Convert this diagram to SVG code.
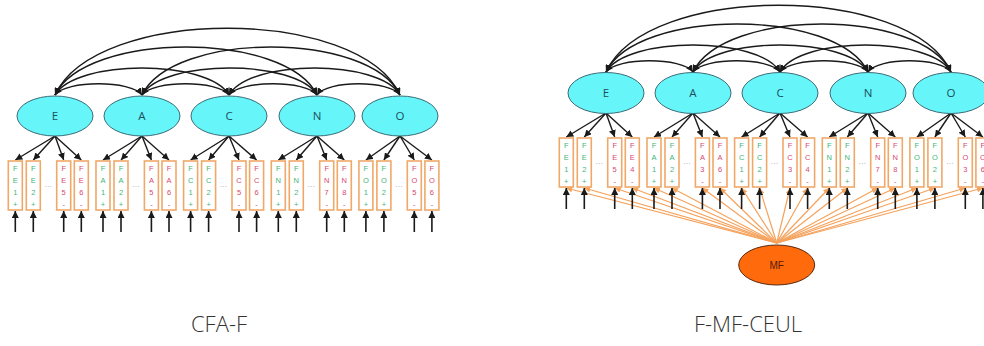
<svg xmlns="http://www.w3.org/2000/svg" width="984" height="346" viewBox="0 0 984 346">
  <style>
    .lat ellipse { fill: #66f6f9; stroke: #3d6b78; stroke-width: 1; }
    .lat text { font-family: "Open Sans", "Liberation Sans", sans-serif; font-size: 11.5px; fill: #1d4f5e; text-anchor: middle; }
    .item rect { fill: #ffffff; stroke: #f0a868; stroke-width: 1.6; }
    .item text { font-family: "Liberation Sans", sans-serif; font-size: 7.5px; text-anchor: middle; }
    .pos text { fill: #3cb878; }
    .neg text { fill: #d84870; }
    .dots { font-family: "Liberation Sans", sans-serif; font-size: 8px; fill: #9a9a9a; text-anchor: middle; }
    .cov path { fill: none; stroke: #1a1a1a; stroke-width: 1.4; marker-start: url(#ah); marker-end: url(#ah); }
    .load line { stroke: #1a1a1a; stroke-width: 1.4; marker-end: url(#ah); }
    .err line { stroke: #1a1a1a; stroke-width: 1.6; marker-end: url(#ah); }
    .mfl line { stroke: #f5a25c; stroke-width: 1.2; marker-end: url(#aho); }
    #mf ellipse { fill: #ff6a0c; stroke: #5a2a10; stroke-width: 1; }
    #mf text { font-family: "Liberation Sans", sans-serif; font-size: 10px; fill: #5a1a05; text-anchor: middle; }
    .title { font-family: "Open Sans", "Liberation Sans", sans-serif; font-weight: 300; font-size: 22px; fill: #333333; text-anchor: middle; }
  </style>
  <defs>
    <marker id="ah" viewBox="0 0 10 10" refX="10" refY="5" markerWidth="7" markerHeight="7" markerUnits="userSpaceOnUse" orient="auto-start-reverse">
      <path d="M0,0 L10,5 L0,10 z" fill="#1a1a1a"/>
    </marker>
    <marker id="aho" viewBox="0 0 10 10" refX="10" refY="5" markerWidth="6" markerHeight="6" markerUnits="userSpaceOnUse" orient="auto">
      <path d="M0,0 L10,5 L0,10 z" fill="#f5a25c"/>
    </marker>
  </defs>
  <rect width="984" height="346" fill="#ffffff"/>

  <!-- ===== Left model: CFA-F ===== -->
  <g id="cfa-f">
    <g id="cfa-f-connectors">
      <g class="cov">
        <path d="M55,95 C65.4,80 131.6,80 142,95"/>
        <path d="M55,95 C76,59 208,59 229,95"/>
        <path d="M55,95 C86,31 286,31 317,95"/>
        <path d="M55,95 C96,6 359,6 400,95"/>
        <path d="M142,95 C152.4,80 218.6,80 229,95"/>
        <path d="M142,95 C163,59 296,59 317,95"/>
        <path d="M142,95 C173,31 369,31 400,95"/>
        <path d="M229,95 C239.5,80 306.5,80 317,95"/>
        <path d="M229,95 C249.5,59 379.5,59 400,95"/>
        <path d="M317,95 C327,80 390,80 400,95"/>
      </g>
      <g class="load">
        <line x1="55" y1="136" x2="15.3" y2="160"/><line x1="55" y1="136" x2="33.3" y2="160"/>
        <line x1="55" y1="136" x2="63.7" y2="160"/><line x1="55" y1="136" x2="81.3" y2="160"/>
        <line x1="142" y1="136" x2="103" y2="160"/><line x1="142" y1="136" x2="121" y2="160"/>
        <line x1="142" y1="136" x2="151.4" y2="160"/><line x1="142" y1="136" x2="169" y2="160"/>
        <line x1="229" y1="136" x2="190.6" y2="160"/><line x1="229" y1="136" x2="208.6" y2="160"/>
        <line x1="229" y1="136" x2="239" y2="160"/><line x1="229" y1="136" x2="256.6" y2="160"/>
        <line x1="317" y1="136" x2="278.3" y2="160"/><line x1="317" y1="136" x2="296.3" y2="160"/>
        <line x1="317" y1="136" x2="326.7" y2="160"/><line x1="317" y1="136" x2="344.3" y2="160"/>
        <line x1="400" y1="136" x2="365.9" y2="160"/><line x1="400" y1="136" x2="383.9" y2="160"/>
        <line x1="400" y1="136" x2="414.3" y2="160"/><line x1="400" y1="136" x2="431.9" y2="160"/>
      </g>
      <g class="err">
        <line x1="15.3" y1="232" x2="15.3" y2="211"/><line x1="33.3" y1="232" x2="33.3" y2="211"/>
        <line x1="63.7" y1="232" x2="63.7" y2="211"/><line x1="81.3" y1="232" x2="81.3" y2="211"/>
        <line x1="103" y1="232" x2="103" y2="211"/><line x1="121" y1="232" x2="121" y2="211"/>
        <line x1="151.4" y1="232" x2="151.4" y2="211"/><line x1="169" y1="232" x2="169" y2="211"/>
        <line x1="190.6" y1="232" x2="190.6" y2="211"/><line x1="208.6" y1="232" x2="208.6" y2="211"/>
        <line x1="239" y1="232" x2="239" y2="211"/><line x1="256.6" y1="232" x2="256.6" y2="211"/>
        <line x1="278.3" y1="232" x2="278.3" y2="211"/><line x1="296.3" y1="232" x2="296.3" y2="211"/>
        <line x1="326.7" y1="232" x2="326.7" y2="211"/><line x1="344.3" y1="232" x2="344.3" y2="211"/>
        <line x1="365.9" y1="232" x2="365.9" y2="211"/><line x1="383.9" y1="232" x2="383.9" y2="211"/>
        <line x1="414.3" y1="232" x2="414.3" y2="211"/><line x1="431.9" y1="232" x2="431.9" y2="211"/>
      </g>
    </g>

    <!-- latent factors -->
    <g id="l-E" class="lat"><ellipse cx="55" cy="116" rx="38" ry="20"/><text x="55" y="120">E</text></g>
    <g id="l-A" class="lat"><ellipse cx="142" cy="116" rx="38" ry="20"/><text x="142" y="120">A</text></g>
    <g id="l-C" class="lat"><ellipse cx="229" cy="116" rx="38" ry="20"/><text x="229" y="120">C</text></g>
    <g id="l-N" class="lat"><ellipse cx="317" cy="116" rx="38" ry="20"/><text x="317" y="120">N</text></g>
    <g id="l-O" class="lat"><ellipse cx="400" cy="116" rx="38" ry="20"/><text x="400" y="120">O</text></g>

    <!-- observed items -->
    <g id="l-FE1" class="item pos" transform="translate(15.3,161)"><rect x="-7" y="0" width="14" height="49"/><text y="10">F</text><text y="22">E</text><text y="34">1</text><text y="46">+</text></g>
    <g id="l-FE2" class="item pos" transform="translate(33.3,161)"><rect x="-7" y="0" width="14" height="49"/><text y="10">F</text><text y="22">E</text><text y="34">2</text><text y="46">+</text></g>
    <g id="l-FE5" class="item neg" transform="translate(63.7,161)"><rect x="-7" y="0" width="14" height="49"/><text y="10">F</text><text y="22">E</text><text y="34">5</text><text y="46">-</text></g>
    <g id="l-FE6" class="item neg" transform="translate(81.3,161)"><rect x="-7" y="0" width="14" height="49"/><text y="10">F</text><text y="22">E</text><text y="34">6</text><text y="46">-</text></g>
    <g id="l-FA1" class="item pos" transform="translate(103,161)"><rect x="-7" y="0" width="14" height="49"/><text y="10">F</text><text y="22">A</text><text y="34">1</text><text y="46">+</text></g>
    <g id="l-FA2" class="item pos" transform="translate(121,161)"><rect x="-7" y="0" width="14" height="49"/><text y="10">F</text><text y="22">A</text><text y="34">2</text><text y="46">+</text></g>
    <g id="l-FA5" class="item neg" transform="translate(151.4,161)"><rect x="-7" y="0" width="14" height="49"/><text y="10">F</text><text y="22">A</text><text y="34">5</text><text y="46">-</text></g>
    <g id="l-FA6" class="item neg" transform="translate(169,161)"><rect x="-7" y="0" width="14" height="49"/><text y="10">F</text><text y="22">A</text><text y="34">6</text><text y="46">-</text></g>
    <g id="l-FC1" class="item pos" transform="translate(190.6,161)"><rect x="-7" y="0" width="14" height="49"/><text y="10">F</text><text y="22">C</text><text y="34">1</text><text y="46">+</text></g>
    <g id="l-FC2" class="item pos" transform="translate(208.6,161)"><rect x="-7" y="0" width="14" height="49"/><text y="10">F</text><text y="22">C</text><text y="34">2</text><text y="46">+</text></g>
    <g id="l-FC5" class="item neg" transform="translate(239,161)"><rect x="-7" y="0" width="14" height="49"/><text y="10">F</text><text y="22">C</text><text y="34">5</text><text y="46">-</text></g>
    <g id="l-FC6" class="item neg" transform="translate(256.6,161)"><rect x="-7" y="0" width="14" height="49"/><text y="10">F</text><text y="22">C</text><text y="34">6</text><text y="46">-</text></g>
    <g id="l-FN1" class="item pos" transform="translate(278.3,161)"><rect x="-7" y="0" width="14" height="49"/><text y="10">F</text><text y="22">N</text><text y="34">1</text><text y="46">+</text></g>
    <g id="l-FN2" class="item pos" transform="translate(296.3,161)"><rect x="-7" y="0" width="14" height="49"/><text y="10">F</text><text y="22">N</text><text y="34">2</text><text y="46">+</text></g>
    <g id="l-FN7" class="item neg" transform="translate(326.7,161)"><rect x="-7" y="0" width="14" height="49"/><text y="10">F</text><text y="22">N</text><text y="34">7</text><text y="46">-</text></g>
    <g id="l-FN8" class="item neg" transform="translate(344.3,161)"><rect x="-7" y="0" width="14" height="49"/><text y="10">F</text><text y="22">N</text><text y="34">8</text><text y="46">-</text></g>
    <g id="l-FO1" class="item pos" transform="translate(365.9,161)"><rect x="-7" y="0" width="14" height="49"/><text y="10">F</text><text y="22">O</text><text y="34">1</text><text y="46">+</text></g>
    <g id="l-FO2" class="item pos" transform="translate(383.9,161)"><rect x="-7" y="0" width="14" height="49"/><text y="10">F</text><text y="22">O</text><text y="34">2</text><text y="46">+</text></g>
    <g id="l-FO5" class="item neg" transform="translate(414.3,161)"><rect x="-7" y="0" width="14" height="49"/><text y="10">F</text><text y="22">O</text><text y="34">5</text><text y="46">-</text></g>
    <g id="l-FO6" class="item neg" transform="translate(431.9,161)"><rect x="-7" y="0" width="14" height="49"/><text y="10">F</text><text y="22">O</text><text y="34">6</text><text y="46">-</text></g>

    <g class="dots">
      <text x="48.3" y="187">…</text><text x="136" y="187">…</text><text x="223.6" y="187">…</text>
      <text x="311.3" y="187">…</text><text x="398.9" y="187">…</text>
    </g>
  </g>

  <!-- ===== Right model: F-MF-CEUL ===== -->
  <g id="f-mf-ceul" transform="translate(551,-23)">
    <g id="f-mf-ceul-connectors">
      <g class="mfl">
        <line x1="225.7" y1="266" x2="15.3" y2="211"/><line x1="225.7" y1="266" x2="33.3" y2="211"/>
        <line x1="225.7" y1="266" x2="63.7" y2="211"/><line x1="225.7" y1="266" x2="81.3" y2="211"/>
        <line x1="225.7" y1="266" x2="103" y2="211"/><line x1="225.7" y1="266" x2="121" y2="211"/>
        <line x1="225.7" y1="266" x2="151.4" y2="211"/><line x1="225.7" y1="266" x2="169" y2="211"/>
        <line x1="225.7" y1="266" x2="190.6" y2="211"/><line x1="225.7" y1="266" x2="208.6" y2="211"/>
        <line x1="225.7" y1="266" x2="239" y2="211"/><line x1="225.7" y1="266" x2="256.6" y2="211"/>
        <line x1="225.7" y1="266" x2="278.3" y2="211"/><line x1="225.7" y1="266" x2="296.3" y2="211"/>
        <line x1="225.7" y1="266" x2="326.7" y2="211"/><line x1="225.7" y1="266" x2="344.3" y2="211"/>
        <line x1="225.7" y1="266" x2="365.9" y2="211"/><line x1="225.7" y1="266" x2="383.9" y2="211"/>
        <line x1="225.7" y1="266" x2="414.3" y2="211"/><line x1="225.7" y1="266" x2="431.9" y2="211"/>
      </g>
      <g class="cov">
        <path d="M55,95 C65.4,80 131.6,80 142,95"/>
        <path d="M55,95 C76,59 208,59 229,95"/>
        <path d="M55,95 C86,31 286,31 317,95"/>
        <path d="M55,95 C96,6 359,6 400,95"/>
        <path d="M142,95 C152.4,80 218.6,80 229,95"/>
        <path d="M142,95 C163,59 296,59 317,95"/>
        <path d="M142,95 C173,31 369,31 400,95"/>
        <path d="M229,95 C239.5,80 306.5,80 317,95"/>
        <path d="M229,95 C249.5,59 379.5,59 400,95"/>
        <path d="M317,95 C327,80 390,80 400,95"/>
      </g>
      <g class="load">
        <line x1="55" y1="136" x2="15.3" y2="160"/><line x1="55" y1="136" x2="33.3" y2="160"/>
        <line x1="55" y1="136" x2="63.7" y2="160"/><line x1="55" y1="136" x2="81.3" y2="160"/>
        <line x1="142" y1="136" x2="103" y2="160"/><line x1="142" y1="136" x2="121" y2="160"/>
        <line x1="142" y1="136" x2="151.4" y2="160"/><line x1="142" y1="136" x2="169" y2="160"/>
        <line x1="229" y1="136" x2="190.6" y2="160"/><line x1="229" y1="136" x2="208.6" y2="160"/>
        <line x1="229" y1="136" x2="239" y2="160"/><line x1="229" y1="136" x2="256.6" y2="160"/>
        <line x1="317" y1="136" x2="278.3" y2="160"/><line x1="317" y1="136" x2="296.3" y2="160"/>
        <line x1="317" y1="136" x2="326.7" y2="160"/><line x1="317" y1="136" x2="344.3" y2="160"/>
        <line x1="400" y1="136" x2="365.9" y2="160"/><line x1="400" y1="136" x2="383.9" y2="160"/>
        <line x1="400" y1="136" x2="414.3" y2="160"/><line x1="400" y1="136" x2="431.9" y2="160"/>
      </g>
      <g class="err">
        <line x1="15.3" y1="232" x2="15.3" y2="211"/><line x1="33.3" y1="232" x2="33.3" y2="211"/>
        <line x1="63.7" y1="232" x2="63.7" y2="211"/><line x1="81.3" y1="232" x2="81.3" y2="211"/>
        <line x1="103" y1="232" x2="103" y2="211"/><line x1="121" y1="232" x2="121" y2="211"/>
        <line x1="151.4" y1="232" x2="151.4" y2="211"/><line x1="169" y1="232" x2="169" y2="211"/>
        <line x1="190.6" y1="232" x2="190.6" y2="211"/><line x1="208.6" y1="232" x2="208.6" y2="211"/>
        <line x1="239" y1="232" x2="239" y2="211"/><line x1="256.6" y1="232" x2="256.6" y2="211"/>
        <line x1="278.3" y1="232" x2="278.3" y2="211"/><line x1="296.3" y1="232" x2="296.3" y2="211"/>
        <line x1="326.7" y1="232" x2="326.7" y2="211"/><line x1="344.3" y1="232" x2="344.3" y2="211"/>
        <line x1="365.9" y1="232" x2="365.9" y2="211"/><line x1="383.9" y1="232" x2="383.9" y2="211"/>
        <line x1="414.3" y1="232" x2="414.3" y2="211"/><line x1="431.9" y1="232" x2="431.9" y2="211"/>
      </g>
    </g>

    <g id="r-E" class="lat"><ellipse cx="55" cy="116" rx="38" ry="20.5"/><text x="55" y="120">E</text></g>
    <g id="r-A" class="lat"><ellipse cx="142" cy="116" rx="38" ry="20.5"/><text x="142" y="120">A</text></g>
    <g id="r-C" class="lat"><ellipse cx="229" cy="116" rx="38" ry="20.5"/><text x="229" y="120">C</text></g>
    <g id="r-N" class="lat"><ellipse cx="317" cy="116" rx="38" ry="20.5"/><text x="317" y="120">N</text></g>
    <g id="r-O" class="lat"><ellipse cx="400" cy="116" rx="38" ry="20.5"/><text x="400" y="120">O</text></g>

    <g id="r-FE1" class="item pos" transform="translate(15.3,161)"><rect x="-7" y="0" width="14" height="49"/><text y="10">F</text><text y="22">E</text><text y="34">1</text><text y="46">+</text></g>
    <g id="r-FE2" class="item pos" transform="translate(33.3,161)"><rect x="-7" y="0" width="14" height="49"/><text y="10">F</text><text y="22">E</text><text y="34">2</text><text y="46">+</text></g>
    <g id="r-FE5" class="item neg" transform="translate(63.7,161)"><rect x="-7" y="0" width="14" height="49"/><text y="10">F</text><text y="22">E</text><text y="34">5</text><text y="46">-</text></g>
    <g id="r-FE4" class="item neg" transform="translate(81.3,161)"><rect x="-7" y="0" width="14" height="49"/><text y="10">F</text><text y="22">E</text><text y="34">4</text><text y="46">-</text></g>
    <g id="r-FA1" class="item pos" transform="translate(103,161)"><rect x="-7" y="0" width="14" height="49"/><text y="10">F</text><text y="22">A</text><text y="34">1</text><text y="46">+</text></g>
    <g id="r-FA2" class="item pos" transform="translate(121,161)"><rect x="-7" y="0" width="14" height="49"/><text y="10">F</text><text y="22">A</text><text y="34">2</text><text y="46">+</text></g>
    <g id="r-FA3" class="item neg" transform="translate(151.4,161)"><rect x="-7" y="0" width="14" height="49"/><text y="10">F</text><text y="22">A</text><text y="34">3</text><text y="46">-</text></g>
    <g id="r-FA6" class="item neg" transform="translate(169,161)"><rect x="-7" y="0" width="14" height="49"/><text y="10">F</text><text y="22">A</text><text y="34">6</text><text y="46">-</text></g>
    <g id="r-FC1" class="item pos" transform="translate(190.6,161)"><rect x="-7" y="0" width="14" height="49"/><text y="10">F</text><text y="22">C</text><text y="34">1</text><text y="46">+</text></g>
    <g id="r-FC2" class="item pos" transform="translate(208.6,161)"><rect x="-7" y="0" width="14" height="49"/><text y="10">F</text><text y="22">C</text><text y="34">2</text><text y="46">+</text></g>
    <g id="r-FC3" class="item neg" transform="translate(239,161)"><rect x="-7" y="0" width="14" height="49"/><text y="10">F</text><text y="22">C</text><text y="34">3</text><text y="46">-</text></g>
    <g id="r-FC4" class="item neg" transform="translate(256.6,161)"><rect x="-7" y="0" width="14" height="49"/><text y="10">F</text><text y="22">C</text><text y="34">4</text><text y="46">-</text></g>
    <g id="r-FN1" class="item pos" transform="translate(278.3,161)"><rect x="-7" y="0" width="14" height="49"/><text y="10">F</text><text y="22">N</text><text y="34">1</text><text y="46">+</text></g>
    <g id="r-FN2" class="item pos" transform="translate(296.3,161)"><rect x="-7" y="0" width="14" height="49"/><text y="10">F</text><text y="22">N</text><text y="34">2</text><text y="46">+</text></g>
    <g id="r-FN7" class="item neg" transform="translate(326.7,161)"><rect x="-7" y="0" width="14" height="49"/><text y="10">F</text><text y="22">N</text><text y="34">7</text><text y="46">-</text></g>
    <g id="r-FN8" class="item neg" transform="translate(344.3,161)"><rect x="-7" y="0" width="14" height="49"/><text y="10">F</text><text y="22">N</text><text y="34">8</text><text y="46">-</text></g>
    <g id="r-FO1" class="item pos" transform="translate(365.9,161)"><rect x="-7" y="0" width="14" height="49"/><text y="10">F</text><text y="22">O</text><text y="34">1</text><text y="46">+</text></g>
    <g id="r-FO2" class="item pos" transform="translate(383.9,161)"><rect x="-7" y="0" width="14" height="49"/><text y="10">F</text><text y="22">O</text><text y="34">2</text><text y="46">+</text></g>
    <g id="r-FO3" class="item neg" transform="translate(414.3,161)"><rect x="-7" y="0" width="14" height="49"/><text y="10">F</text><text y="22">O</text><text y="34">3</text><text y="46">-</text></g>
    <g id="r-FO6" class="item neg" transform="translate(431.9,161)"><rect x="-7" y="0" width="14" height="49"/><text y="10">F</text><text y="22">O</text><text y="34">6</text><text y="46">-</text></g>

    <g class="dots">
      <text x="48.3" y="187">…</text><text x="136" y="187">…</text><text x="223.6" y="187">…</text>
      <text x="311.3" y="187">…</text><text x="398.9" y="187">…</text>
    </g>

    <g id="mf"><ellipse cx="225.7" cy="288" rx="38" ry="20"/><text x="225.7" y="292">MF</text></g>
  </g>

  <!-- model captions -->
  <text class="title" x="219" y="332">CFA-F</text>
  <text class="title" x="748" y="332">F-MF-CEUL</text>
</svg>
